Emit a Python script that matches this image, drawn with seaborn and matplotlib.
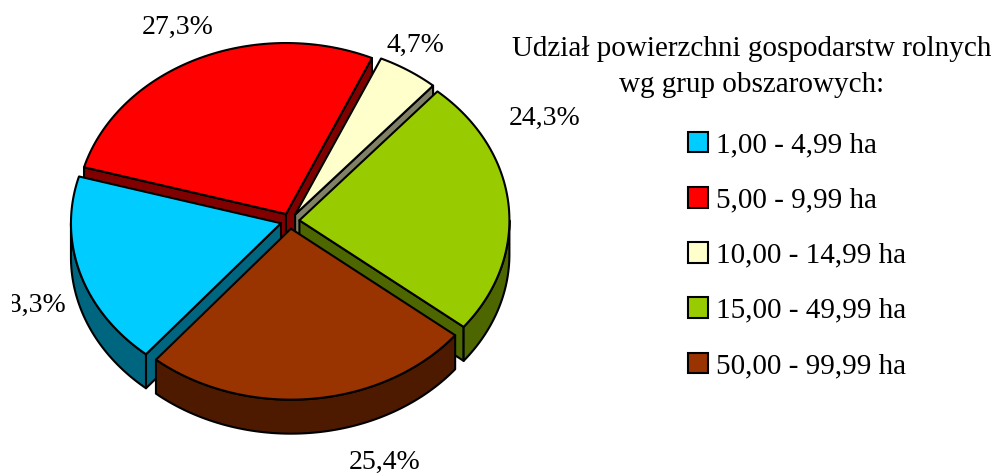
import numpy as np
import matplotlib
matplotlib.use("Agg")
import matplotlib.pyplot as plt
import matplotlib.colors as mcolors
from matplotlib.patches import Polygon, Patch
import seaborn as sns

# ---- data ----
categories = ["1,00 - 4,99 ha", "5,00 - 9,99 ha", "10,00 - 14,99 ha",
              "15,00 - 49,99 ha", "50,00 - 99,99 ha"]
shares = [18.3, 27.3, 4.7, 24.3, 25.4]
top_colors = ["#00CCFF", "#FF0000", "#FFFFCC", "#99CC00", "#993300"]
title = "Udział powierzchni gospodarstw rolnych\nwg grup obszarowych:"

# ---- layout (pixels) ----
W, H = 997, 476
CX, CY, RX, RY, DEPTH = 290, 221, 210, 171, 34
EXPLODE = 0.045
START = 230
LABEL_XY = [(30, 305), (178, 27), (415, 45), (545, 118), (385, 462)]
CLIP_X = 12

sns.set_theme(style="white")
plt.rcParams['font.family'] = ['Liberation Serif', 'DejaVu Serif']
plt.rcParams['text.color'] = 'black'

fig = plt.figure(figsize=(W / 100, H / 100), dpi=100)
ax = fig.add_axes([CLIP_X / W, 0, 1 - CLIP_X / W, 1])
ax.set_xlim(CLIP_X, W)
ax.set_ylim(H, 0)
ax.axis("off")

side_colors = [tuple(c * 0.5 for c in mcolors.to_rgb(col)) for col in top_colors]
lw = 1.5


def pt(t, ox, oy, dz=0.0):
    r = np.radians(t)
    return (CX + ox + RX * np.cos(r), CY + oy - RY * np.sin(r) + dz)


def arc(a, b, ox, oy, dz=0.0, n=80):
    ts = np.linspace(a, b, n)
    return [pt(t, ox, oy, dz) for t in ts]


def front_part(lo, hi):
    # intersect [lo, hi] with the front half (180..360 mod 360)
    parts = []
    for k in range(-2, 3):
        a, b = max(lo, 180 + 360 * k), min(hi, 360 + 360 * k)
        if b > a:
            parts.append((a, b))
    return parts


wedges = []
cum = 0.0
for i, v in enumerate(shares):
    a_start = START - cum * 3.6
    a_end = a_start - v * 3.6
    cum += v
    mid = np.radians((a_start + a_end) / 2)
    ox = EXPLODE * RX * np.cos(mid)
    oy = -EXPLODE * RY * np.sin(mid)
    wedges.append(dict(i=i, hi=a_start, lo=a_end, ox=ox, oy=oy, depth=np.sin(mid)))

# side walls, back to front
for w in sorted(wedges, key=lambda d: -d["depth"]):
    i, ox, oy = w["i"], w["ox"], w["oy"]
    apex_t = (CX + ox, CY + oy)
    apex_b = (CX + ox, CY + oy + DEPTH)
    # radial cut faces
    for ang, nrm in ((w["hi"], w["hi"] + 90), (w["lo"], w["lo"] - 90)):
        if np.sin(np.radians(nrm)) < 0:
            poly = [apex_t, pt(ang, ox, oy), pt(ang, ox, oy, DEPTH), apex_b]
            ax.add_patch(Polygon(poly, closed=True, facecolor=side_colors[i],
                                 edgecolor="black", lw=lw, joinstyle="round", zorder=2))
    # outer curved wall
    for a, b in front_part(w["lo"], w["hi"]):
        poly = arc(a, b, ox, oy) + arc(b, a, ox, oy, DEPTH)
        ax.add_patch(Polygon(poly, closed=True, facecolor=side_colors[i],
                             edgecolor="black", lw=lw, joinstyle="round", zorder=2))

# top faces
for w in wedges:
    i, ox, oy = w["i"], w["ox"], w["oy"]
    poly = [(CX + ox, CY + oy)] + arc(w["lo"], w["hi"], ox, oy)
    ax.add_patch(Polygon(poly, closed=True, facecolor=top_colors[i],
                         edgecolor="black", lw=lw, joinstyle="round", zorder=3))

# percentage labels
for v, (x, y) in zip(shares, LABEL_XY):
    ax.text(x, y, f"{v:.1f}%".replace(".", ","), fontsize=20, ha="center",
            va="center", color="black", clip_on=True)

# legend
ax.text(752, 67, title, fontsize=21, ha="center", va="center", linespacing=1.55,
        color="black")
handles = [Patch(facecolor=c, edgecolor="black", lw=1.5) for c in top_colors]
leg = ax.legend(handles, categories, loc="upper left", bbox_to_anchor=(688, 132),
                bbox_transform=ax.transData, frameon=False, fontsize=21,
                handlelength=0.7, handleheight=0.7, handletextpad=0.25,
                labelspacing=0.985, borderpad=0, borderaxespad=0)
for t in leg.get_texts():
    t.set_color("black")

fig.savefig("out.png", dpi=100)
